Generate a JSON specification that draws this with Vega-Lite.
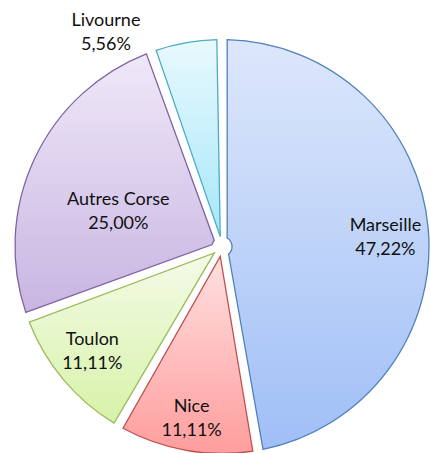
{
  "$schema": "https://vega.github.io/schema/vega-lite/v6.json",
  "autosize": {"type": "fit", "contains": "padding"},
  "width": 431,
  "height": 453,
  "padding": {"left": 13, "top": 31, "right": 0, "bottom": 0},
  "background": "white",
  "view": {"stroke": null},
  "data": {
    "values": [
      {"city": "Marseille", "value": 17, "pct": "47,22%", "rank": 1},
      {"city": "Nice", "value": 4, "pct": "11,11%", "rank": 2},
      {"city": "Toulon", "value": 4, "pct": "11,11%", "rank": 3},
      {"city": "Autres Corse", "value": 9, "pct": "25,00%", "rank": 4},
      {"city": "Livourne", "value": 2, "pct": "5,56%", "rank": 5}
    ]
  },
  "encoding": {
    "theta": {"field": "value", "type": "quantitative", "stack": true},
    "detail": {"field": "city", "type": "nominal"},
    "order": {"field": "rank", "type": "quantitative"}
  },
  "layer": [
    {
      "mark": {"type": "arc", "outerRadius": 207, "innerRadius": 10, "padAngle": 0.05, "strokeWidth": 1.3},
      "encoding": {
        "fill": {
          "condition": [
            {"test": "datum.city === 'Marseille'", "value": {"gradient": "linear", "x1": 0, "y1": 0, "x2": 0, "y2": 1, "stops": [{"offset": 0, "color": "#dde7fb"}, {"offset": 1, "color": "#a0bff6"}]}},
            {"test": "datum.city === 'Nice'", "value": {"gradient": "linear", "x1": 0, "y1": 0, "x2": 0, "y2": 1, "stops": [{"offset": 0, "color": "#ffe0e0"}, {"offset": 1, "color": "#ff9d9d"}]}},
            {"test": "datum.city === 'Toulon'", "value": {"gradient": "linear", "x1": 0, "y1": 0, "x2": 0, "y2": 1, "stops": [{"offset": 0, "color": "#f4fbe8"}, {"offset": 1, "color": "#d7f2a8"}]}},
            {"test": "datum.city === 'Autres Corse'", "value": {"gradient": "linear", "x1": 0, "y1": 0, "x2": 0, "y2": 1, "stops": [{"offset": 0, "color": "#efe8f8"}, {"offset": 1, "color": "#c8b5e2"}]}}
          ],
          "value": {"gradient": "linear", "x1": 0, "y1": 0, "x2": 0, "y2": 1, "stops": [{"offset": 0, "color": "#e8f9fe"}, {"offset": 1, "color": "#a6e7f8"}]}
        },
        "stroke": {
          "condition": [
            {"test": "datum.city === 'Marseille'", "value": "#4f81bd"},
            {"test": "datum.city === 'Nice'", "value": "#c0504d"},
            {"test": "datum.city === 'Toulon'", "value": "#9bbb59"},
            {"test": "datum.city === 'Autres Corse'", "value": "#8064a2"}
          ],
          "value": "#4bacc6"
        }
      }
    },
    {
      "mark": {
        "type": "text",
        "font": "Lato",
        "fontSize": 18,
        "color": "#111111",
        "align": "center",
        "baseline": "middle",
        "radius": {"expr": "datum.city === 'Marseille' ? 164 : datum.city === 'Nice' ? 175 : datum.city === 'Toulon' ? 168 : datum.city === 'Autres Corse' ? 110 : 225"},
        "dx": {"expr": "datum.city === 'Autres Corse' ? -4 : datum.city === 'Livourne' ? -77 : datum.city === 'Toulon' ? -1 : 0"},
        "dy": {"expr": "(datum.city === 'Marseille' ? 6 : datum.city === 'Nice' ? 0 : datum.city === 'Toulon' ? -2 : datum.city === 'Autres Corse' ? 12 : 8) - 12"}
      },
      "encoding": {"text": {"field": "city", "type": "nominal"}}
    },
    {
      "mark": {
        "type": "text",
        "font": "Lato",
        "fontSize": 18,
        "color": "#111111",
        "align": "center",
        "baseline": "middle",
        "radius": {"expr": "datum.city === 'Marseille' ? 164 : datum.city === 'Nice' ? 175 : datum.city === 'Toulon' ? 168 : datum.city === 'Autres Corse' ? 110 : 225"},
        "dx": {"expr": "datum.city === 'Autres Corse' ? -4 : datum.city === 'Livourne' ? -77 : datum.city === 'Toulon' ? -1 : 0"},
        "dy": {"expr": "(datum.city === 'Marseille' ? 6 : datum.city === 'Nice' ? 0 : datum.city === 'Toulon' ? -2 : datum.city === 'Autres Corse' ? 12 : 8) + 12"}
      },
      "encoding": {"text": {"field": "pct", "type": "nominal"}}
    }
  ]
}
